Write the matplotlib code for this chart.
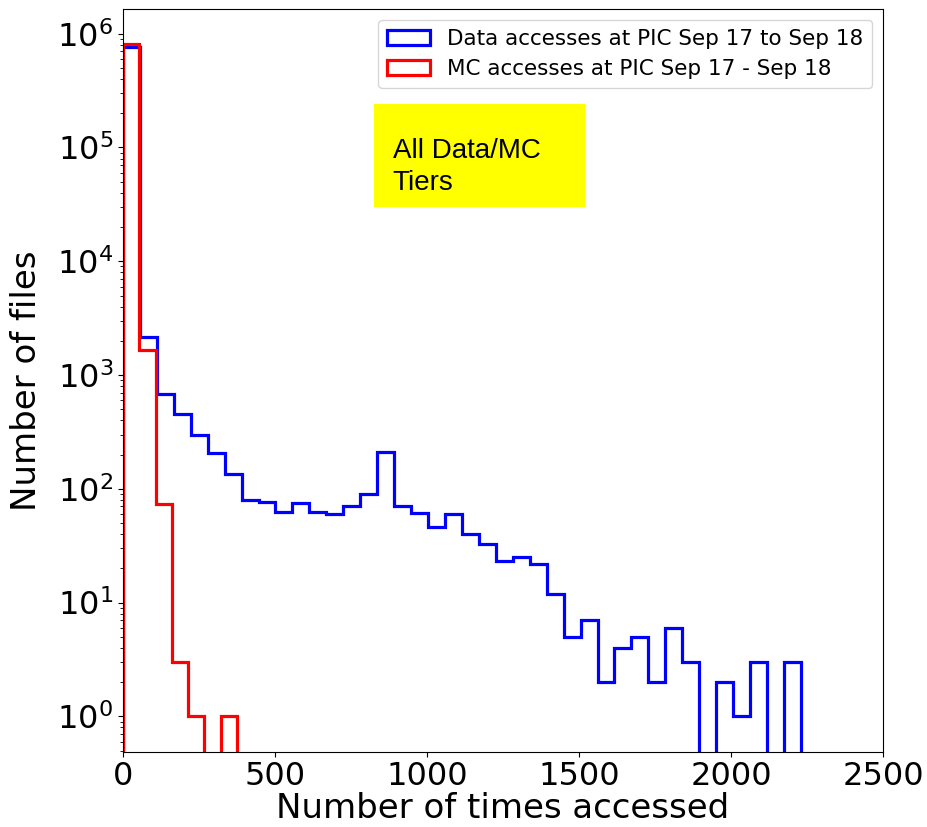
import numpy as np
import matplotlib

matplotlib.use("Agg")
import matplotlib.pyplot as plt
from matplotlib.patches import Rectangle

# Data accesses: 40 equal bins between 0 and the largest access count
data_max_accesses = 2230
data_counts = [
    760000, 2180, 681, 457, 299, 206, 136, 80, 77, 62,
    75, 63, 60, 71, 90, 211, 70, 61, 46, 60,
    40, 33, 23, 25, 22, 12, 5, 7, 2, 4,
    5, 2, 6, 3, 0, 2, 1, 3, 0, 3,
]

# MC accesses: 7 equal bins between 0 and the largest access count
mc_max_accesses = 375
mc_counts = [820000, 1670, 74, 3, 1, 0, 1]

data_label = "Data accesses at PIC Sep 17 to Sep 18"
mc_label = "MC accesses at PIC Sep 17 - Sep 18"
note_text = "All Data/MC\nTiers"

data_edges = np.linspace(0, data_max_accesses, len(data_counts) + 1)
mc_edges = np.linspace(0, mc_max_accesses, len(mc_counts) + 1)

fig = plt.figure(figsize=(9.28, 8.27), dpi=100)
ax = fig.add_axes([0.1325, 0.0911, 0.819, 0.8977])

ax.hist(data_edges[:-1], bins=data_edges, weights=data_counts, histtype="step",
        color="blue", linewidth=2.3, log=True, label=data_label)
ax.hist(mc_edges[:-1], bins=mc_edges, weights=mc_counts, histtype="step",
        color="red", linewidth=2.3, log=True, label=mc_label)

ax.set_xlim(0, 2500)
ax.set_ylim(0.49, 1.64e6)
ax.set_xlabel("Number of times accessed", fontsize=24.5, labelpad=0)
ax.set_ylabel("Number of files", fontsize=24.5, labelpad=10)
ax.tick_params(axis="x", labelsize=23)
ax.tick_params(axis="y", labelsize=23)

ax.legend(loc="upper right", fontsize=15.5)

# yellow note box under the legend
ax.add_patch(Rectangle((0.330, 0.734), 0.278, 0.138, transform=ax.transAxes,
                       facecolor="#FFFF00", edgecolor="none", zorder=5))
ax.text(0.355, 0.7566, note_text, transform=ax.transAxes, va="baseline", ha="left",
        fontsize=20, family="Liberation Sans", linespacing=1.3, zorder=6)

fig.savefig("out.png", dpi=100)
